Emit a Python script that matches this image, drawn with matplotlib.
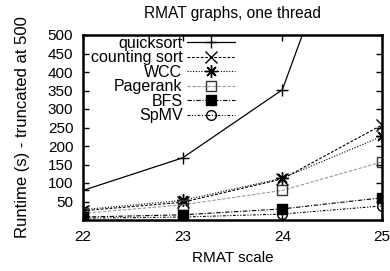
import matplotlib
matplotlib.use("Agg")
import matplotlib.pyplot as plt

plt.rcParams['font.family'] = ['Liberation Sans', 'DejaVu Sans']
plt.rcParams['font.size'] = 11

# Data
scales = [22, 23, 24, 25]
quicksort = [80, 168, 352, 1090]
counting_sort = [25, 48, 111, 257]
wcc = [28, 53, 113, 226]
pagerank = [18, 41, 80, 157]
bfs = [8, 14, 30, 60]
spmv = [5, 8, 16, 38]

yticks = [50, 100, 150, 200, 250, 300, 350, 400, 450, 500]

fig = plt.figure(figsize=(3.9, 2.71), dpi=100)
ax = fig.add_axes([83/390, 1 - 220/271, (382 - 83)/390, (220 - 35)/271])

ax.plot(scales, quicksort, color='black', lw=0.9, ls='-', marker='+', ms=9, mew=1, label='quicksort')
ax.plot(scales, counting_sort, color='black', lw=0.8, ls=(0, (2.5, 1.5)), marker='x', ms=8, mew=1, label='counting sort')
ax.plot(scales, wcc, color='black', lw=0.8, ls=(0, (1, 1.5)), marker=(8, 2, 0), ms=9, mew=1, label='WCC')
ax.plot(scales, pagerank, color='#999999', lw=0.8, ls=(0, (3, 1.5)), marker='s', ms=7, mew=1,
        mfc='none', mec='#333333', label='Pagerank')
ax.plot(scales, bfs, color='black', lw=0.8, ls=(0, (4, 1.5, 1, 1.5)), marker='s', ms=7,
        mfc='black', mec='black', label='BFS')
ax.plot(scales, spmv, color='black', lw=0.8, ls=(0, (2.5, 1.5, 1, 1.5, 1, 1.5)), marker='o', ms=7, mew=1,
        mfc='none', mec='black', label='SpMV')

ax.set_xlim(22, 25)
ax.set_ylim(0, 500)
ax.set_xticks(scales)
ax.set_yticks(yticks)
ax.tick_params(direction='in', length=4, width=1, top=True, right=True, labelsize=11)
ax.tick_params(axis='x', pad=7)
ax.tick_params(axis='y', pad=7)
for s in ax.spines.values():
    s.set_linewidth(1.8)

ax.set_title('RMAT graphs, one thread', fontsize=11.2, pad=12)
ax.set_xlabel('RMAT scale', fontsize=11, labelpad=5)
ax.set_ylabel('Runtime (s) - truncated at 500', fontsize=12, labelpad=13)

leg = ax.legend(loc='upper right', bbox_to_anchor=((236 - 83)/299, 1.0), markerfirst=False,
                frameon=False, fontsize=11.5, handlelength=3.0, handletextpad=0.3,
                labelspacing=-0.03, borderaxespad=0, borderpad=0.05)

fig.savefig('out.png', dpi=100)
